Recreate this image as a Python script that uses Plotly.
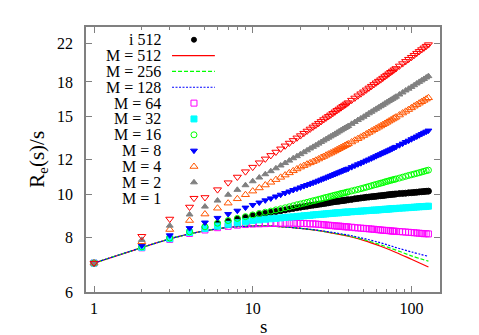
import plotly.graph_objects as go
import math

# ---------------- data ----------------
S_MARK = list(range(1, 41)) + list(range(42, 81, 2)) + list(range(84, 129, 4))
S_LINE = [1, 2, 3, 4, 5, 6, 7, 8, 10, 13, 16, 20, 25, 32, 40, 50, 64, 80, 100, 128]

I512 = [6.98, 7.60, 7.95, 8.21, 8.42, 8.57, 8.68, 8.78, 8.86, 8.94,
        9.00, 9.05, 9.10, 9.14, 9.18, 9.22, 9.26, 9.29, 9.32, 9.35,
        9.38, 9.40, 9.43, 9.45, 9.47, 9.49, 9.51, 9.53, 9.55, 9.57,
        9.59, 9.61, 9.63, 9.64, 9.65, 9.67, 9.68, 9.69, 9.71, 9.72,
        9.74, 9.77, 9.79, 9.81, 9.83, 9.85, 9.86, 9.88, 9.89, 9.90,
        9.92, 9.93, 9.94, 9.95, 9.97, 9.98, 9.99, 10.00, 10.01, 10.02,
        10.04, 10.05, 10.06, 10.08, 10.09, 10.10, 10.11, 10.13, 10.14, 10.15, 10.16, 10.17]

M512 = [6.98, 7.57, 7.92, 8.13, 8.26, 8.35, 8.41, 8.44, 8.47, 8.47,
        8.43, 8.37, 8.29, 8.16, 8.03, 7.86, 7.62, 7.38, 7.12, 6.84]
M256 = [6.98, 7.57, 7.92, 8.13, 8.26, 8.35, 8.41, 8.44, 8.47, 8.47,
        8.43, 8.37, 8.29, 8.17, 8.05, 7.89, 7.68, 7.47, 7.25, 7.05]
M128 = [6.98, 7.57, 7.92, 8.13, 8.26, 8.35, 8.41, 8.44, 8.47, 8.47,
        8.43, 8.37, 8.30, 8.19, 8.08, 7.94, 7.76, 7.57, 7.40, 7.23]

M64 = [6.98, 7.56, 7.90, 8.15, 8.30, 8.40, 8.46, 8.51, 8.54, 8.56,
       8.57, 8.58, 8.59, 8.59, 8.60, 8.60, 8.60, 8.60, 8.59, 8.59,
       8.59, 8.58, 8.57, 8.57, 8.56, 8.55, 8.54, 8.53, 8.52, 8.51,
       8.50, 8.49, 8.48, 8.47, 8.47, 8.46, 8.45, 8.44, 8.44, 8.43,
       8.42, 8.40, 8.39, 8.38, 8.37, 8.36, 8.35, 8.34, 8.33, 8.32,
       8.31, 8.30, 8.29, 8.28, 8.28, 8.27, 8.26, 8.25, 8.25, 8.24,
       8.23, 8.22, 8.21, 8.20, 8.19, 8.18, 8.17, 8.16, 8.15, 8.14, 8.14, 8.13]

M32 = [6.98, 7.58, 7.93, 8.19, 8.36, 8.47, 8.55, 8.62, 8.67, 8.72,
       8.75, 8.78, 8.80, 8.82, 8.84, 8.86, 8.88, 8.89, 8.91, 8.92,
       8.94, 8.95, 8.96, 8.98, 8.99, 9.00, 9.01, 9.02, 9.03, 9.04,
       9.05, 9.06, 9.07, 9.08, 9.08, 9.09, 9.10, 9.11, 9.11, 9.12,
       9.13, 9.14, 9.15, 9.16, 9.17, 9.18, 9.19, 9.20, 9.21, 9.21,
       9.22, 9.23, 9.24, 9.25, 9.25, 9.26, 9.27, 9.28, 9.28, 9.29,
       9.30, 9.31, 9.32, 9.33, 9.34, 9.35, 9.36, 9.37, 9.38, 9.38, 9.39, 9.40]

M16 = [6.98, 7.60, 7.96, 8.22, 8.44, 8.60, 8.72, 8.82, 8.90, 8.98,
       9.05, 9.11, 9.16, 9.22, 9.27, 9.32, 9.37, 9.42, 9.47, 9.51,
       9.55, 9.59, 9.63, 9.67, 9.70, 9.74, 9.77, 9.81, 9.84, 9.87,
       9.90, 9.93, 9.96, 9.98, 10.01, 10.04, 10.06, 10.08, 10.11, 10.13,
       10.18, 10.22, 10.26, 10.30, 10.34, 10.38, 10.42, 10.46, 10.50, 10.53,
       10.57, 10.60, 10.63, 10.67, 10.70, 10.73, 10.76, 10.79, 10.81, 10.84,
       10.89, 10.94, 10.99, 11.04, 11.08, 11.12, 11.16, 11.20, 11.24, 11.28, 11.32, 11.35]

M8 = [6.98, 7.65, 8.07, 8.38, 8.63, 8.84, 9.02, 9.18, 9.33, 9.46,
      9.58, 9.69, 9.79, 9.89, 9.98, 10.07, 10.15, 10.23, 10.30, 10.37,
      10.44, 10.50, 10.56, 10.62, 10.68, 10.74, 10.80, 10.86, 10.91, 10.97,
      11.02, 11.07, 11.12, 11.17, 11.22, 11.27, 11.31, 11.36, 11.40, 11.44,
      11.53, 11.62, 11.70, 11.77, 11.85, 11.93, 12.00, 12.07, 12.14, 12.21,
      12.28, 12.34, 12.41, 12.47, 12.53, 12.59, 12.65, 12.71, 12.77, 12.82,
      12.93, 13.04, 13.15, 13.24, 13.34, 13.44, 13.53, 13.62, 13.71, 13.80, 13.88, 13.96]

M4 = [6.98, 7.80, 8.32, 8.72, 9.02, 9.30, 9.55, 9.77, 9.98, 10.17,
      10.34, 10.50, 10.65, 10.80, 10.93, 11.06, 11.19, 11.31, 11.42, 11.53,
      11.62, 11.71, 11.79, 11.87, 11.95, 12.03, 12.12, 12.19, 12.27, 12.34,
      12.41, 12.48, 12.55, 12.63, 12.70, 12.77, 12.83, 12.90, 12.96, 13.02,
      13.15, 13.27, 13.38, 13.49, 13.60, 13.71, 13.82, 13.92, 14.02, 14.12,
      14.21, 14.30, 14.39, 14.48, 14.57, 14.66, 14.74, 14.82, 14.90, 14.98,
      15.14, 15.30, 15.44, 15.58, 15.72, 15.86, 15.99, 16.11, 16.23, 16.35, 16.46, 16.57]

M2 = [6.98, 7.88, 8.49, 9.00, 9.38, 9.68, 9.98, 10.24, 10.49, 10.71,
      10.92, 11.11, 11.29, 11.46, 11.63, 11.78, 11.93, 12.08, 12.21, 12.34,
      12.47, 12.59, 12.71, 12.82, 12.93, 13.04, 13.15, 13.25, 13.35, 13.45,
      13.54, 13.63, 13.72, 13.81, 13.90, 13.98, 14.07, 14.15, 14.22, 14.30,
      14.46, 14.60, 14.75, 14.88, 15.01, 15.15, 15.28, 15.40, 15.52, 15.64,
      15.75, 15.86, 15.97, 16.08, 16.18, 16.29, 16.39, 16.48, 16.58, 16.67,
      16.86, 17.04, 17.22, 17.38, 17.54, 17.70, 17.86, 18.01, 18.15, 18.29, 18.43, 18.56]

M1 = [6.98, 8.03, 8.79, 9.36, 9.84, 10.25, 10.63, 10.95, 11.26, 11.53,
      11.80, 12.04, 12.26, 12.48, 12.69, 12.89, 13.08, 13.26, 13.44, 13.60,
      13.77, 13.93, 14.08, 14.23, 14.37, 14.51, 14.65, 14.79, 14.92, 15.04,
      15.16, 15.28, 15.40, 15.52, 15.63, 15.74, 15.85, 15.96, 16.06, 16.16,
      16.37, 16.56, 16.75, 16.93, 17.10, 17.28, 17.45, 17.61, 17.77, 17.93,
      18.08, 18.22, 18.37, 18.52, 18.66, 18.80, 18.94, 19.07, 19.20, 19.32,
      19.58, 19.82, 20.05, 20.28, 20.49, 20.71, 20.93, 21.13, 21.33, 21.52, 21.71, 21.89]

Y_TICKS = [6, 8, 10, 12, 15, 18, 22]
X_TICKS = [1, 10, 100]
X_MINOR = [2, 3, 4, 5, 6, 7, 8, 9, 20, 30, 40, 50, 60, 70, 80, 90]

# ---------------- styles ----------------
FONT = "Liberation Serif"
AX = "#808080"

marker_series = [
    ("i 512", I512, "circle", "#000000", 6),
    ("M = 64", M64, "square-open", "#ff00ff", 6),
    ("M = 32", M32, "square", "#00ffff", 6),
    ("M = 16", M16, "circle-open", "#00ff00", 6),
    ("M = 8", M8, "triangle-down", "#0000ff", 6),
    ("M = 4", M4, "triangle-up-open", "#ff5500", 7),
    ("M = 2", M2, "triangle-up", "#808080", 6),
    ("M = 1", M1, "triangle-down-open", "#ff0000", 7),
]
line_series = [
    ("M = 512", M512, "#ff0000", "solid"),
    ("M = 256", M256, "#00ff00", "4px,2px"),
    ("M = 128", M128, "#0000ff", "2px,1.5px"),
]

fig = go.Figure()

for name, vals, col, dash in line_series:
    fig.add_trace(go.Scatter(x=S_LINE, y=vals, mode="lines", name=name,
                             line=dict(color=col, width=1.2, dash=dash, shape="spline"),
                             showlegend=False))

for name, vals, sym, col, size in marker_series:
    fig.add_trace(go.Scatter(x=S_MARK, y=vals, mode="markers", name=name,
                             marker=dict(symbol=sym, color=col, size=size,
                                         line=dict(color=col, width=1)),
                             showlegend=False))

# ---------------- custom legend (label left, sample right) ----------------
legend_order = [
    ("i 512", "marker", ("circle", "#000000", 5)),
    ("M = 512", "line", ("#ff0000", "solid")),
    ("M = 256", "line", ("#00ff00", "4px,2px")),
    ("M = 128", "line", ("#0000ff", "2px,1.5px")),
    ("M = 64", "marker", ("square-open", "#ff00ff", 6)),
    ("M = 32", "marker", ("square", "#00ffff", 6)),
    ("M = 16", "marker", ("circle-open", "#00ff00", 6)),
    ("M = 8", "marker", ("triangle-down", "#0000ff", 6)),
    ("M = 4", "marker", ("triangle-up-open", "#ff5500", 7)),
    ("M = 2", "marker", ("triangle-up", "#808080", 6)),
    ("M = 1", "marker", ("triangle-down-open", "#ff0000", 7)),
]
annotations = []
y0, dy = 0.952, 0.0598
for i, (lab, kind, sty) in enumerate(legend_order):
    yy = y0 - i * dy
    annotations.append(dict(x=0.2175, y=yy, xref="paper", yref="paper", text=lab,
                            showarrow=False, xanchor="right", yanchor="middle",
                            font=dict(family=FONT, size=16, color="black")))
    if kind == "marker":
        sym, col, size = sty
        fig.add_trace(go.Scatter(x=[0.305], y=[yy], xaxis="x2", yaxis="y2", mode="markers",
                                 marker=dict(symbol=sym, color=col, size=size,
                                             line=dict(color=col, width=1)),
                                 showlegend=False, hoverinfo="skip"))
    else:
        col, dash = sty
        fig.add_trace(go.Scatter(x=[0.243, 0.364], y=[yy, yy], xaxis="x2", yaxis="y2",
                                 mode="lines", line=dict(color=col, width=1.2, dash=dash),
                                 showlegend=False, hoverinfo="skip"))

# axis titles
annotations.append(dict(x=-0.138, y=0.5, xref="paper", yref="paper",
                        text="R<sub>e</sub>(s)/s", showarrow=False, textangle=-90,
                        xanchor="center", yanchor="middle",
                        font=dict(family=FONT, size=21, color="black")))
annotations.append(dict(x=0.5, y=-0.132, xref="paper", yref="paper", text="s",
                        showarrow=False, xanchor="center", yanchor="middle",
                        font=dict(family=FONT, size=19, color="black")))

fig.update_layout(
    width=479, height=335,
    margin=dict(l=78, r=47, t=19, b=51, autoexpand=False),
    paper_bgcolor="white", plot_bgcolor="white",
    showlegend=False,
    annotations=annotations,
    xaxis=dict(type="log", range=[math.log10(0.89), math.log10(151.4)],
               automargin=False,
               tickmode="array", tickvals=X_TICKS, ticktext=[str(v) for v in X_TICKS],
               ticks="inside", ticklen=6, tickwidth=1, tickcolor=AX,
               minor=dict(tickmode="array", tickvals=X_MINOR, ticks="inside",
                          ticklen=3, tickcolor=AX, tickwidth=1, showgrid=False),
               showline=True, linecolor=AX, linewidth=1.5, mirror="allticks",
               showgrid=False, zeroline=False, ticklabelstandoff=1,
               tickfont=dict(family=FONT, size=16, color="black")),
    yaxis=dict(type="log", range=[math.log10(6), math.log10(24)],
               automargin=False,
               tickmode="array", tickvals=Y_TICKS, ticktext=[str(v) for v in Y_TICKS],
               ticks="inside", ticklen=6, tickwidth=1, tickcolor=AX,
               showline=True, linecolor=AX, linewidth=1.5, mirror="allticks",
               showgrid=False, zeroline=False, ticklabelstandoff=8,
               tickfont=dict(family=FONT, size=16, color="black")),
    xaxis2=dict(overlaying="x", range=[0, 1], visible=False, anchor="y2"),
    yaxis2=dict(overlaying="y", range=[0, 1], visible=False, anchor="x2"),
)

fig.write_html("out.html")
